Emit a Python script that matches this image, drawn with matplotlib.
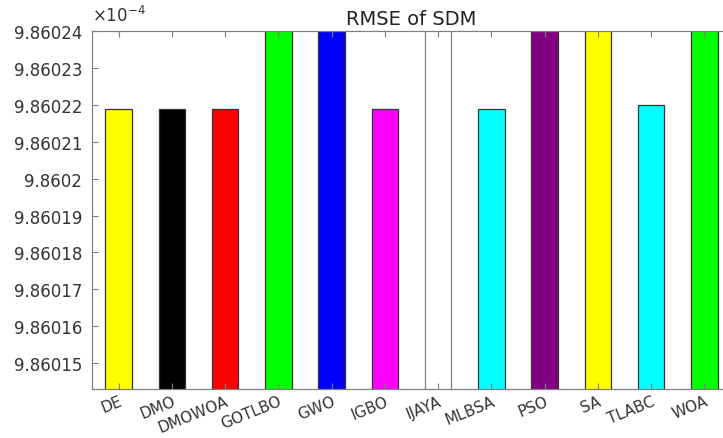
import matplotlib.pyplot as plt
from matplotlib.ticker import FuncFormatter
from matplotlib.transforms import ScaledTranslation

plt.rcParams['font.family'] = ['DejaVu Sans']

# RMSE of the single diode model per algorithm, in units of 1e-4
algorithms = ['DE', 'DMO', 'DMOWOA', 'GOTLBO', 'GWO', 'IGBO', 'IJAYA',
              'MLBSA', 'PSO', 'SA', 'TLABC', 'WOA']
rmse = [9.860219, 9.860219, 9.860219, 9.86030, 9.86030, 9.860219, 9.86030,
        9.860219, 9.86030, 9.86030, 9.860220, 9.86030]
bar_colors = ['#ffff00', '#000000', '#ff0000', '#00ff00', '#0000ff', '#ff00ff',
              '#ffffff', '#00ffff', '#800080', '#ffff00', '#00ffff', '#00ff00']
edge_colors = ['#333333'] * 6 + ['#808080'] + ['#333333'] * 5
yticks = [9.86015, 9.86016, 9.86017, 9.86018, 9.86019, 9.86020,
          9.86021, 9.86022, 9.86023, 9.86024]

fig = plt.figure(figsize=(7.23, 4.39), dpi=100)
# axes run a little past the right border of the figure
ax = fig.add_axes([92 / 723, 49 / 439, 639 / 723, 358 / 439])

pos = list(range(1, len(algorithms) + 1))
ax.bar(pos, rmse, width=0.5, color=bar_colors, edgecolor=edge_colors, linewidth=0.9)

ax.set_xlim(0.5, 12.5)
ax.set_ylim(9.860143, 9.86024)
ax.set_yticks(yticks)
ax.yaxis.set_major_formatter(FuncFormatter(lambda v, p: f'{v:.6g}'))
ax.set_xticks(pos)
ax.set_xticklabels(algorithms, rotation=22, ha='right', va='top',
                   rotation_mode='anchor', fontsize=11)
shift = ScaledTranslation(9 / 100, 0, fig.dpi_scale_trans)
for lbl in ax.get_xticklabels():
    lbl.set_transform(lbl.get_transform() + shift)

ax.tick_params(direction='in', length=4, width=0.8, colors='#808080',
               labelcolor='#333333', top=True, right=True)
ax.tick_params(axis='y', labelsize=12, pad=7)
ax.tick_params(axis='x', pad=3)
for s in ax.spines.values():
    s.set_color('#808080')
    s.set_linewidth(0.9)

ax.set_title('RMSE of SDM', fontsize=14, color='#222222', pad=5)
fig.text(92 / 723, 1 - 22 / 439, r'$\times\mathregular{10^{-4}}$', fontsize=12,
         color='#333333', va='baseline', ha='left')

fig.savefig('out.png', dpi=100)
